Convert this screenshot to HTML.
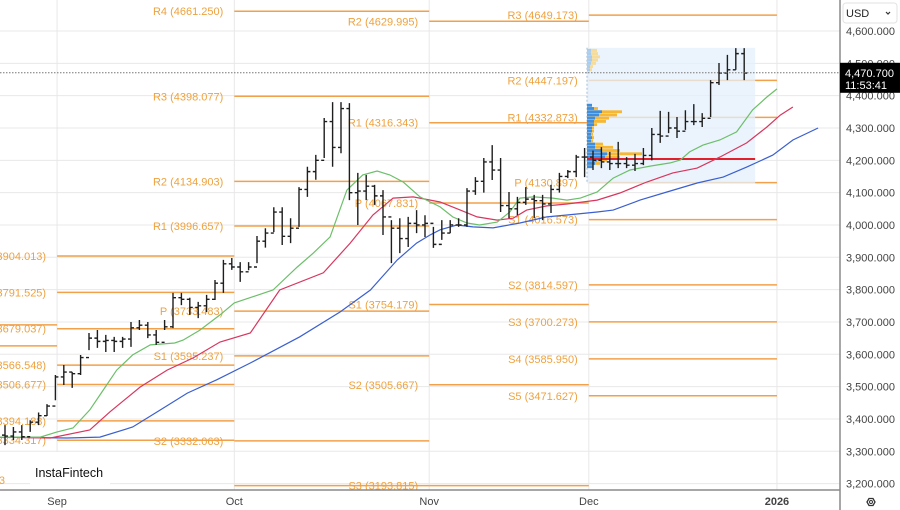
<!DOCTYPE html>
<html><head><meta charset="utf-8"><style>
html,body{margin:0;padding:0;background:#fff;width:900px;height:510px;overflow:hidden}
svg{display:block;font-family:"Liberation Sans",sans-serif}
</style></head><body>
<svg id="chart" width="900" height="510" viewBox="0 0 900 510" xmlns="http://www.w3.org/2000/svg">
<g id="grid"></g>
<g id="pivots"></g>
<g id="profile"></g>
<g id="mas"></g>
<g id="bars"></g>
<g id="axes"></g>
</svg>
<script>
const priceTicks=[4600,4500,4400,4300,4200,4100,4000,3900,3800,3700,3600,3500,3400,3300,3200];
const monthLabels=["Sep","Oct","Nov","Dec","2026"];
const monthIdx=[6.2,27.3,50.5,69.5,91.9];
const opens=[3350,3347,3360,3345,3390,3410,3440,3530,3545,3540,3590,3650,3640,3643,3640,3647,3682,3690,3660,3637,3685,3775,3770,3745,3750,3770,3820,3880,3870,3855,3870,3950,3975,4040,3965,3990,4110,4165,4200,4320,4240,4360,4100,4105,4120,4090,4025,3990,3958,4005,4000,4005,3940,3975,4000,4000,4105,4135,4195,4170,4060,4050,4070,4080,4075,4065,4110,4150,4165,4210,4210,4200,4195,4190,4190,4185,4190,4215,4280,4275,4300,4290,4320,4320,4330,4440,4470,4480,4530];
const highs=[3381,3375,3381,3396,3420,3446,3536,3567,3545,3598,3666,3675,3660,3654,3654,3700,3706,3700,3675,3706,3790,3790,3775,3762,3784,3830,3892,3898,3885,3885,3966,3990,4055,4055,4021,4117,4180,4217,4331,4380,4380,4377,4161,4155,4124,4108,4015,4021,4025,4046,4030,3994,4015,4015,4021,4114,4148,4207,4247,4207,4102,4087,4117,4093,4093,4124,4161,4170,4217,4238,4230,4241,4226,4257,4210,4220,4238,4300,4353,4350,4334,4355,4374,4346,4448,4501,4526,4547,4547];
const lows=[3319,3335,3335,3360,3381,3409,3458,3505,3496,3536,3613,3620,3607,3607,3620,3623,3675,3650,3629,3675,3681,3752,3722,3712,3731,3768,3790,3861,3824,3860,3882,3930,3978,3938,3944,3994,4087,4140,4207,4180,4222,4077,4000,4077,4062,3969,3882,3913,3932,3975,3963,3929,3954,3975,3994,3994,4093,4100,4139,4040,4021,4031,4062,4021,4015,4037,4100,4145,4148,4148,4170,4176,4170,4176,4176,4167,4185,4200,4254,4284,4269,4294,4309,4303,4334,4433,4448,4480,4448];
const closes=[3347,3360,3345,3390,3410,3440,3530,3545,3540,3590,3650,3640,3643,3640,3647,3682,3690,3660,3637,3685,3775,3770,3745,3750,3770,3820,3880,3870,3855,3870,3950,3975,4040,3965,3990,4110,4165,4200,4320,4240,4360,4100,4105,4120,4090,4025,3990,3958,4005,4000,4005,3940,3975,4000,4000,4105,4135,4195,4170,4060,4050,4070,4080,4075,4065,4110,4150,4165,4210,4210,4200,4195,4190,4190,4185,4190,4215,4280,4275,4300,4290,4320,4320,4330,4440,4470,4480,4530,4470];
const greenIdx=[-0.6,4.2,6.2,8.1,10.1,11.3,13.3,15.2,17.3,20.2,21.2,23.2,25.6,27.3,31.9,34.8,36.7,38.7,40.7,42.6,44.3,45.8,47.4,49.4,51.8,53.3,55,56.5,58.6,60.1,61.3,62.9,65.2,66.9,68.5,70.5,72.4,74.4,76.8,79.2,80.4,81.5,83.1,85.1,87.1,89,90.7,91.9];
const greenVal=[3344,3344,3360,3372,3428,3474,3551,3598,3629,3635,3644,3675,3722,3759,3799,3870,3913,3963,4108,4155,4167,4155,4133,4087,4056,4025,4006,4000,4009,4040,4083,4087,4083,4077,4083,4102,4145,4170,4182,4192,4201,4226,4247,4263,4288,4356,4396,4421];
const redIdx=[-0.6,5.4,10.1,12.5,16.1,19.3,22.4,25.6,29.2,32.7,37.9,41.1,43.8,46.2,48.6,51.8,54.2,56.2,58.6,60.5,62.1,64.5,66.9,70.5,73.2,76.4,79.5,82.4,85.1,88.3,90.7,92.3,93.8];
const redVal=[3344,3341,3366,3422,3499,3551,3589,3638,3666,3799,3852,3944,4031,4083,4087,4071,4046,4025,4015,4021,4046,4059,4065,4077,4099,4133,4161,4176,4210,4254,4303,4340,4365];
const blueIdx=[-0.6,7.4,11.3,15.2,18.5,21.7,25.2,29.2,35.1,39.9,43.5,46.7,49,50.6,51.8,53.8,55.7,58.1,61.3,64.5,66.9,70.5,72.4,75.6,78.8,82.4,85.5,88.3,91.4,93.8,96.8];
const blueVal=[3344,3341,3344,3375,3428,3480,3521,3573,3654,3731,3799,3892,3944,3969,3985,4000,3994,3991,4006,4025,4031,4040,4046,4077,4102,4130,4148,4179,4216,4263,4300];
// pivot segments
const segFrom=[-0.6,6.2,27.3,50.5,69.5];
const segTo=[6.2,27.3,50.5,69.5,91.9];
const segNames=[["",""],["R3","R2","R1","P","S1","S2","S3"],["R4","R3","R2","R1","P","S1","S2",""],["R2","R1","P","S1","S2","S3"],["R3","R2","R1","P","S1","S2","S3","S4","S5"]];
const segVals=[[3691,3626],[3904.013,3791.525,3679.037,3566.548,3506.677,3394.188,3334.317],[4661.250,4398.077,4134.903,3996.657,3733.483,3595.237,3332.063,3193.815],[4629.995,4316.343,4067.831,3754.179,3505.667,3193.815],[4649.173,4447.197,4332.873,4130.897,4016.573,3814.597,3700.273,3585.950,3471.627]];
// volume profile
const profPrices=[4370,4360,4350,4340,4330,4320,4310,4300,4290,4280,4270,4260,4250,4240,4230,4220,4210,4200,4190,4180];
const profBuy=[5,7,15,12,8,7,7,5,5,4,5,4,8,8,15,20,18,10,8,6];
const profSell=[0,4,20,18,14,12,3,2,2,2,2,2,8,18,18,35,15,10,5,0];
const profTopPrices=[4540,4530,4520,4510,4500,4490,4480];
const profTopBuy=[4,4,5,5,4,3,3];
const profTopSell=[6,7,8,6,5,3,2];
const pocPrice=4204;
const lastPrice=4470.7;

const NS="http://www.w3.org/2000/svg";
const X=i=>5+i*8.4;
const Y=p=>31+(4600-p)*0.3233;
function mk(tag,attrs,parent){const e=document.createElementNS(NS,tag);for(const k in attrs)e.setAttribute(k,attrs[k]);parent.appendChild(e);return e;}
const grid=document.getElementById('grid'),piv=document.getElementById('pivots'),prof=document.getElementById('profile'),mas=document.getElementById('mas'),bars=document.getElementById('bars'),axes=document.getElementById('axes');

priceTicks.forEach(p=>{const l=mk('line',{x1:0,x2:840,y1:Y(p),y2:Y(p),stroke:'#e8e8e8','stroke-width':1},grid);

});
monthIdx.forEach(i=>{const l=mk('line',{x1:X(i),x2:X(i),y1:0,y2:490,stroke:'#e8e8e8','stroke-width':1},grid);

});

segVals.forEach((vals,s)=>{vals.forEach((v,k)=>{
const x1=Math.max(0,X(segFrom[s])),x2=X(segTo[s]),y=Y(v);
const l=mk('line',{x1:x1,x2:x2,y1:y,y2:y,stroke:'#f2a14a','stroke-width':1.5},piv);


if(segNames[s][k]){const t=mk('text',{x:x1-11,y:y+4,'text-anchor':'end','font-size':11,fill:'#eea23f'},piv);
t.textContent=segNames[s][k]+' ('+v.toFixed(3)+')';

}
});});
const cut=mk('text',{x:5,y:484,'text-anchor':'end','font-size':11,fill:'#eea23f'},piv);
cut.textContent='S4 (3221.883';



// profile
const px0=587;
const box=mk('rect',{x:px0,y:Y(4548),width:X(89.3)-px0,height:Y(4128)-Y(4548),fill:'#e4f0fb',opacity:0.75},prof);


const vl=mk('line',{x1:px0,x2:px0,y1:Y(4548),y2:Y(4128),stroke:'#9bbbd8','stroke-dasharray':'2,2'},prof);


profTopPrices.forEach((p,k)=>{
const s=mk('rect',{x:px0,y:Y(p)-1.5,width:profTopBuy[k]+profTopSell[k],height:3,fill:'#f6dc9a'},prof);


const b=mk('rect',{x:px0,y:Y(p)-1.5,width:profTopBuy[k],height:3,fill:'#a9cdf0'},prof);

});
profPrices.forEach((p,k)=>{
const s=mk('rect',{x:px0,y:Y(p)-1.5,width:profBuy[k]+profSell[k],height:2.8,fill:'#f7b733'},prof);


const b=mk('rect',{x:px0,y:Y(p)-1.5,width:profBuy[k],height:2.8,fill:'#3d8ee0'},prof);

});
const poc=mk('line',{x1:px0,x2:X(89.3),y1:Y(pocPrice),y2:Y(pocPrice),stroke:'#e0202a','stroke-width':2},prof);



function ma(idx,val,color,name){const d=idx.map((i,k)=>(k?'L':'M')+Math.max(0,X(i)).toFixed(1)+','+Y(val[k]).toFixed(1)).join('');
const p=mk('path',{d:d,fill:'none',stroke:color,'stroke-width':1.2},mas);

}
ma(blueIdx,blueVal,'#3a5fd0','ma-slow-blue');
ma(redIdx,redVal,'#d8365e','ma-mid-red');
ma(greenIdx,greenVal,'#6cbf6a','ma-fast-green');

closes.forEach((c,i)=>{const x=X(i);
const g=mk('path',{d:`M${x},${Y(highs[i])}V${Y(lows[i])}M${x-3},${Y(opens[i])}H${x}M${x},${Y(c)}H${x+3}`,stroke:'#1e1e1e','stroke-width':1.4,fill:'none'},bars);

});

// last price dotted line
const lp=mk('line',{x1:0,x2:840,y1:Y(lastPrice),y2:Y(lastPrice),stroke:'#777','stroke-width':1,'stroke-dasharray':'1.5,1.5'},axes);



// logo box
const lb=mk('rect',{x:30,y:452,width:80,height:37,fill:'#fff'},axes);


const lt=mk('text',{x:35,y:477,'font-size':12.5,fill:'#111'},axes);
lt.textContent='InstaFintech';



// axes
const ra=mk('rect',{x:840,y:0,width:60,height:510,fill:'#fff'},axes);


const ba=mk('rect',{x:0,y:490,width:840,height:20,fill:'#fff'},axes);


const vline=mk('line',{x1:840,x2:840,y1:0,y2:510,stroke:'#8a8a8a','stroke-width':1.5},axes);


const hline=mk('line',{x1:0,x2:840,y1:490,y2:490,stroke:'#8a8a8a','stroke-width':1.5},axes);


priceTicks.forEach(p=>{const t=mk('text',{x:846,y:Y(p)+4,'font-size':11,fill:'#444'},axes);
t.textContent=p.toLocaleString('en-US')+'.000';

});
monthLabels.forEach((m,k)=>{const t=mk('text',{x:X(monthIdx[k]),y:505,'font-size':11,fill:'#444','text-anchor':'middle','font-weight':m==='2026'?'bold':'normal'},axes);
t.textContent=m;

});
// last price tag
const tag=mk('rect',{x:840,y:Y(lastPrice)-10,width:60,height:30,fill:'#000'},axes);


const t1=mk('text',{x:845,y:Y(lastPrice)+4,'font-size':11,fill:'#fff'},axes);
t1.textContent=lastPrice.toLocaleString('en-US',{minimumFractionDigits:3});


const t2=mk('text',{x:845,y:Y(lastPrice)+16,'font-size':11,fill:'#fff'},axes);
t2.textContent='11:53:41';


// currency dropdown
const dd=mk('rect',{x:843,y:3,width:54,height:20,rx:3,fill:'#fff',stroke:'#e2e2e2'},axes);


const dt=mk('text',{x:846,y:17,'font-size':11,fill:'#222'},axes);
dt.textContent='USD';


const dc=mk('path',{d:'M886,12l2,2l2,-2',stroke:'#333','stroke-width':1.2,fill:'none'},axes);


// settings icon
const sg=mk('polygon',{points:'867,502 869,498.5 873,498.5 875,502 873,505.5 869,505.5',fill:'none',stroke:'#333','stroke-width':1.3},axes);


const sc=mk('circle',{cx:871,cy:502,r:1.5,fill:'none',stroke:'#333','stroke-width':1},axes);


</script>
</body></html>
